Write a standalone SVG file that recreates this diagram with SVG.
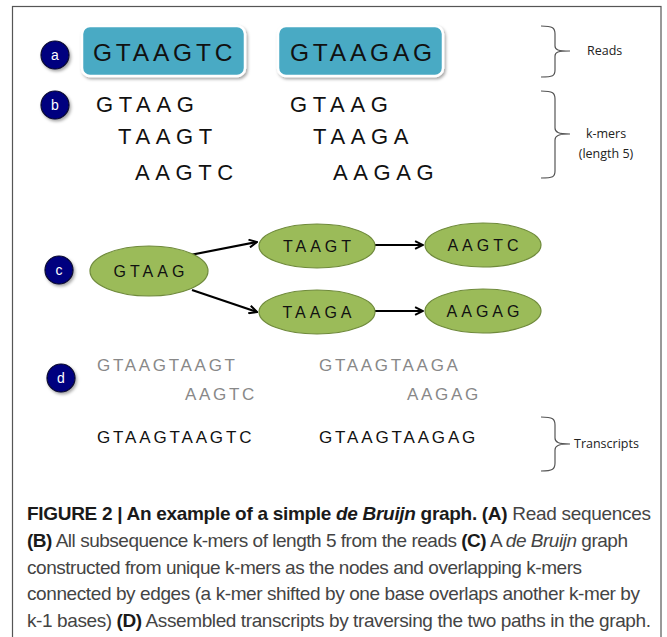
<svg xmlns="http://www.w3.org/2000/svg" width="667" height="637" viewBox="0 0 667 637">
<style>
.seq{font-family:"Liberation Sans",Arial,sans-serif;fill:#111}
.lbl{font-family:"Open Sans","Liberation Sans",sans-serif;font-size:12.5px;fill:#222}
.badge circle{fill:#00007f;stroke:#0a0a30;stroke-width:1.2;filter:url(#sh)}
.badge text{font-family:"Liberation Sans",Arial,sans-serif;font-size:14px;fill:#fff;text-anchor:middle}
.read rect{fill:#4aaac4;stroke:#fff;stroke-width:2.5;filter:url(#sh)}
.node ellipse{fill:#9bbb59;stroke:#6f8a3b;stroke-width:1.2}
.node text{font-family:"Liberation Sans",Arial,sans-serif;font-size:16px;fill:#111;text-anchor:middle;letter-spacing:4px}
.brace{fill:none;stroke:#555;stroke-width:1.2}
.edge{fill:none;stroke:#000;stroke-width:2.2;marker-end:url(#ah)}
.cap{font-family:"Liberation Sans",Arial,sans-serif;font-size:19px;fill:#444}
.b{font-weight:bold;fill:#1a1a1a}
</style>
<defs>
<filter id="sh" x="-20%" y="-20%" width="150%" height="160%">
<feDropShadow dx="1.5" dy="2" stdDeviation="1.5" flood-color="#000" flood-opacity="0.35"/>
</filter>
<marker id="ah" viewBox="0 0 10 10" refX="9" refY="5" markerWidth="4.5" markerHeight="4.5" orient="auto" markerUnits="strokeWidth">
<path d="M1,1 L9,5 L1,9" fill="none" stroke="#000" stroke-width="2"/>
</marker>
</defs>
<rect width="667" height="637" fill="#fff"/>
<rect x="12.5" y="6.5" width="648.5" height="640" fill="none" stroke="#555" stroke-width="1.2"/>

<g id="badge-a" class="badge"><circle cx="55" cy="55" r="14"/><text x="55" y="60">a</text></g>
<g id="badge-b" class="badge"><circle cx="55" cy="105" r="14"/><text x="55" y="110">b</text></g>
<g id="badge-c" class="badge"><circle cx="59" cy="270" r="14"/><text x="59" y="275">c</text></g>
<g id="badge-d" class="badge"><circle cx="61" cy="378" r="14"/><text x="61" y="383">d</text></g>

<g id="read1" class="read"><rect x="82" y="26" width="163" height="50" rx="8"/><text class="seq" x="93" y="61" font-size="24.5" letter-spacing="3.8">GTAAGTC</text></g>
<g id="read2" class="read"><rect x="278" y="26" width="165" height="50" rx="8"/><text class="seq" x="290" y="61" font-size="24.5" letter-spacing="3.8">GTAAGAG</text></g>

<g id="kmers" class="seq" font-size="22" letter-spacing="5.6">
<text x="96" y="112">GTAAG</text>
<text x="118" y="144">TAAGT</text>
<text x="135" y="180">AAGTC</text>
<text x="290" y="112">GTAAG</text>
<text x="313" y="144">TAAGA</text>
<text x="333" y="180">AAGAG</text>
</g>

<g id="brace-reads"><path class="brace" d="M541,26 C553,26 555,28 555,34 L555,46 C555,50 558,51 570,51 C558,51 555,52 555,56 L555,70 C555,76 553,77 541,77"/><text class="lbl" x="587" y="55">Reads</text></g>
<g id="brace-kmers"><path class="brace" d="M541,91 C553,91 555,93 555,99 L555,128 C555,132 558,134 570,134 C558,134 555,136 555,140 L555,171 C555,177 553,178 541,178"/><text class="lbl" x="606" y="138" text-anchor="middle">k-mers</text><text class="lbl" x="606" y="158" text-anchor="middle">(length 5)</text></g>

<g id="connectors">
<path class="edge" d="M190,255 L257,242"/>
<path class="edge" d="M192,290 L257,312"/>
<path class="edge" d="M375,245 L423,245"/>
<path class="edge" d="M375,311 L423,311"/>
</g>

<g id="n-gtaag" class="node"><ellipse cx="149" cy="271" rx="59" ry="25"/><text x="151" y="277">GTAAG</text></g>
<g id="n-taagt" class="node"><ellipse cx="317" cy="246" rx="58" ry="22"/><text x="319" y="252">TAAGT</text></g>
<g id="n-aagtc" class="node"><ellipse cx="483" cy="245" rx="58" ry="22"/><text x="485" y="251">AAGTC</text></g>
<g id="n-taaga" class="node"><ellipse cx="317" cy="312" rx="58" ry="22"/><text x="319" y="318">TAAGA</text></g>
<g id="n-aagag" class="node"><ellipse cx="483" cy="311" rx="58" ry="22"/><text x="485" y="317">AAGAG</text></g>

<g id="assembly" class="seq" font-size="17" letter-spacing="2.7">
<text x="97" y="371" fill="#888">GTAAGTAAGT</text>
<text x="319" y="371" fill="#888">GTAAGTAAGA</text>
<text x="185" y="400" fill="#888">AAGTC</text>
<text x="407" y="400" fill="#888">AAGAG</text>
<text x="97" y="443" fill="#111" letter-spacing="2.85">GTAAGTAAGTC</text>
<text x="319" y="443" fill="#111" letter-spacing="2.85">GTAAGTAAGAG</text>
</g>

<g id="brace-transcripts"><path class="brace" d="M541,417 C553,417 555,419 555,425 L555,438 C555,442 558,444 570,444 C558,444 555,446 555,450 L555,463 C555,469 553,471 541,471"/><text class="lbl" x="574" y="448">Transcripts</text></g>

<g id="caption" class="cap">
<text x="27" y="520" textLength="624" lengthAdjust="spacing"><tspan class="b">FIGURE 2 | An example of a simple </tspan><tspan class="b" font-style="italic">de Bruijn</tspan><tspan class="b"> graph. (A)</tspan> Read sequences</text>
<text x="27" y="547" textLength="601" lengthAdjust="spacing"><tspan class="b">(B)</tspan> All subsequence k-mers of length 5 from the reads <tspan class="b">(C)</tspan> A <tspan font-style="italic">de Bruijn</tspan> graph</text>
<text x="27" y="574" textLength="555" lengthAdjust="spacing">constructed from unique k-mers as the nodes and overlapping k-mers</text>
<text x="27" y="600" textLength="613" lengthAdjust="spacing">connected by edges (a k-mer shifted by one base overlaps another k-mer by</text>
<text x="27" y="627" textLength="624" lengthAdjust="spacing">k-1 bases) <tspan class="b">(D)</tspan> Assembled transcripts by traversing the two paths in the graph.</text>
</g>
</svg>
